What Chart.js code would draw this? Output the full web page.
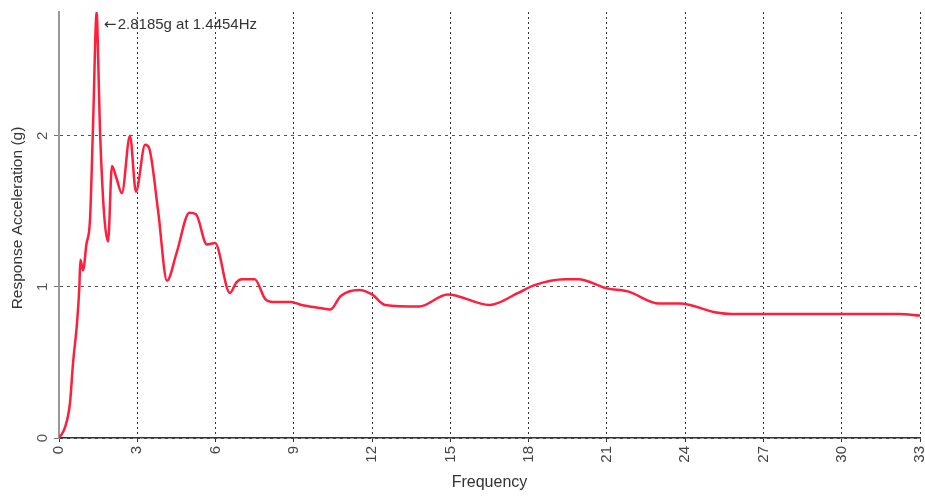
<!DOCTYPE html>
<html>
<head>
<meta charset="utf-8">
<script src="https://cdn.jsdelivr.net/npm/chart.js@4.4.1/dist/chart.umd.min.js"></script>
<style>
  html, body { margin: 0; padding: 0; background: #fff; }
  canvas { display: block; }
</style>
</head>
<body>
<canvas id="spectrum" width="925" height="496"></canvas>
<script>
// response spectrum (Hz, g)
const freqs = [0, 0.23, 0.42, 0.54, 0.69, 0.78, 0.82, 0.92, 1.05, 1.19, 1.3, 1.4454, 1.5, 1.57, 1.88,
  2.03, 2.2, 2.41, 2.72, 2.95, 3.3, 3.45, 3.8, 4.14, 4.5, 5.0, 5.25, 5.67, 5.98, 6.55, 6.8, 7.0, 7.5,
  7.9, 8.2, 8.9, 9.3, 10.0, 10.4, 10.8, 11.5, 12.0, 12.5, 13.8, 14.9, 16.5, 17.6, 18.2, 19.4, 19.9,
  21.0, 21.8, 23.0, 23.8, 25.2, 25.8, 32.2, 33];
const accel = [0, 0.07, 0.23, 0.5, 0.76, 1.0, 1.18, 1.11, 1.28, 1.45, 2.04, 2.8185, 2.52, 2.04, 1.3,
  1.8, 1.72, 1.62, 2.0, 1.63, 1.94, 1.92, 1.5, 1.04, 1.22, 1.49, 1.48, 1.28, 1.29, 0.96, 1.03, 1.05, 1.05,
  0.92, 0.9, 0.9, 0.88, 0.86, 0.85, 0.94, 0.98, 0.95, 0.88, 0.87, 0.95, 0.88, 0.96, 1.01, 1.05, 1.05,
  0.99, 0.97, 0.89, 0.89, 0.83, 0.82, 0.82, 0.81];

const xTicks = [0, 3, 6, 9, 12, 15, 18, 21, 24, 27, 30, 33];
const yTicks = [0, 1, 2];
const yMax = 2.8185;

const FONT = '"Liberation Sans", Arial, sans-serif';

// y tick labels are rotated in the original, titles and peak note drawn here
const extras = {
  id: 'extras',
  afterDraw(chart) {
    const ctx = chart.ctx;
    const area = chart.chartArea;
    const y = chart.scales.y;
    const x = chart.scales.x;
    ctx.save();
    ctx.fillStyle = '#555';
    ctx.font = '15px ' + FONT;
    ctx.textAlign = 'center';
    ctx.textBaseline = 'middle';
    yTicks.forEach(v => {
      ctx.save();
      ctx.translate(43, y.getPixelForValue(v));
      ctx.rotate(-Math.PI / 2);
      ctx.fillText(String(v), 0, 0);
      ctx.restore();
    });

    ctx.fillStyle = '#333';
    ctx.font = '15.5px ' + FONT;
    ctx.save();
    ctx.translate(18, 218);
    ctx.rotate(-Math.PI / 2);
    ctx.fillText('Response Acceleration (g)', 0, 0);
    ctx.restore();
    ctx.font = '16px ' + FONT;
    ctx.fillText('Frequency', (area.left + area.right) / 2, 483);

    // peak note
    let k = 0;
    accel.forEach((v, i) => { if (v > accel[k]) k = i; });
    const px = x.getPixelForValue(freqs[k]);
    const py = y.getPixelForValue(accel[k]);
    ctx.textAlign = 'left';
    ctx.font = '15px "DejaVu Sans", ' + FONT;
    ctx.fillText('\u2190', px + 7, py + 13);
    ctx.font = '15px ' + FONT;
    ctx.fillText(accel[k].toFixed(4) + 'g at ' + freqs[k].toFixed(4) + 'Hz', px + 21, py + 13);
    ctx.restore();
  }
};

new Chart(document.getElementById('spectrum'), {
  type: 'line',
  data: {
    datasets: [{
      data: freqs.map((f, i) => ({ x: f, y: accel[i] })),
      borderColor: '#ff1f3d',
      borderWidth: 2.5,
      pointRadius: 0,
      fill: false,
      cubicInterpolationMode: 'monotone'
    }]
  },
  options: {
    responsive: false,
    animation: false,
    layout: { autoPadding: false, padding: { top: 12, right: 5, left: 0, bottom: 0 } },
    plugins: { legend: { display: false }, tooltip: { enabled: false } },
    scales: {
      x: {
        type: 'linear',
        min: 0,
        max: 33,
        afterBuildTicks: s => { s.ticks = xTicks.map(v => ({ value: v })); },
        afterFit: s => { s.height = 58; s.paddingLeft = 0; s.paddingRight = 0; },
        ticks: {
          color: '#444',
          font: { family: FONT, size: 15 },
          minRotation: 90,
          maxRotation: 90,
          padding: 4
        },
        grid: { color: '#333', lineWidth: 1, tickLength: 4, tickColor: '#333' },
        border: { color: '#333', width: 1.5, dash: [2, 3] }
      },
      y: {
        min: 0,
        max: yMax,
        afterBuildTicks: s => { s.ticks = yTicks.map(v => ({ value: v })); },
        afterFit: s => { s.width = 59; },
        ticks: { display: false },
        grid: { color: '#555', lineWidth: 1, tickLength: 5, tickColor: '#777' },
        border: { color: '#999', width: 2, dash: [3, 4] }
      }
    }
  },
  plugins: [extras]
});
</script>
</body>
</html>
